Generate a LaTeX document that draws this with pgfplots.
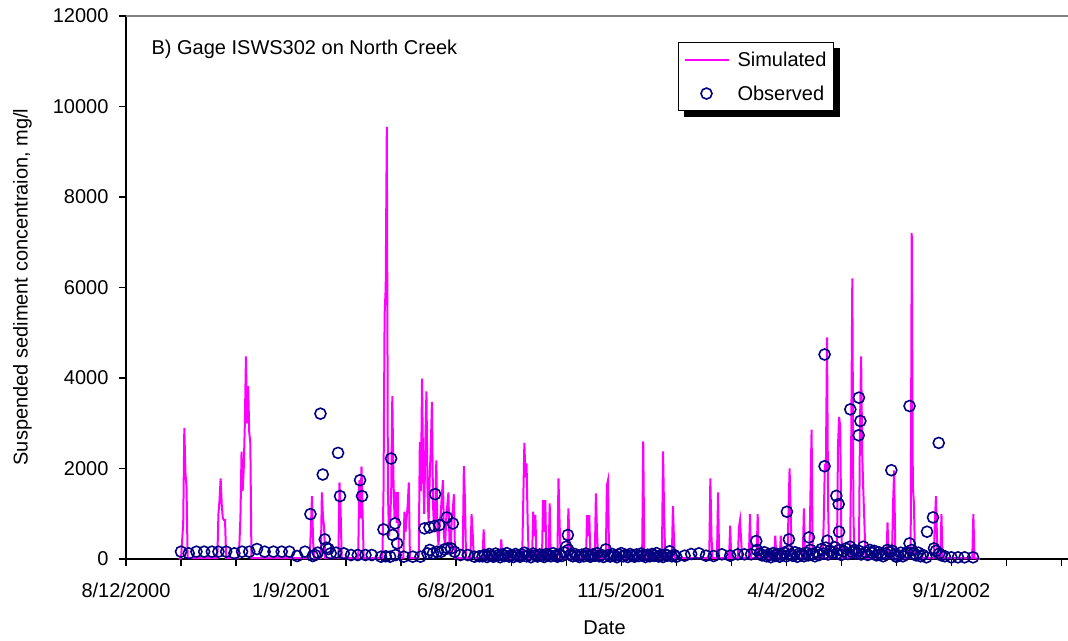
\documentclass[border=0pt]{standalone}
\usepackage{fontspec}
\setmainfont{Liberation Sans}
\usepackage{pgfplots}
\pgfplotsset{compat=1.18}
\usetikzlibrary{backgrounds}
\definecolor{simcol}{RGB}{255,0,255}
\definecolor{obscol}{RGB}{0,0,128}
\newcommand{\chartfont}{\fontsize{20}{24}\selectfont}
\begin{document}
\begin{tikzpicture}
\begin{axis}[
  scale only axis, width=942pt, height=543pt,
  xmin=0, xmax=856, ymin=0, ymax=12000,
  axis x line*=bottom, axis y line*=left,
  axis line style={black, line width=1.3pt},
  xtick={0,50,...,850},
  xticklabels={8/12/2000,,,1/9/2001,,,6/8/2001,,,11/5/2001,,,4/4/2002,,,9/1/2002,,},
  ytick={0,2000,...,12000},
  scaled y ticks=false,
  tick align=outside, major tick length=7pt,
  tick style={black, line width=1.3pt},
  /pgf/number format/1000 sep={},
  /pgf/number format/assume math mode=true,
  tick label style={font=\chartfont},
  xticklabel style={yshift=-13pt},
  yticklabel style={xshift=-7pt},
  xlabel={Date},
  ylabel={Suspended sediment concentraion, mg/l},
  every axis x label/.style={at={(axis description cs:0.508,-0.127)}, anchor=center, font=\chartfont},
  every axis y label/.style={at={(axis description cs:-0.110,0.501)}, rotate=90, anchor=center, font=\chartfont},
  legend image code/.code={\draw[mark repeat=2,mark phase=2,#1] plot coordinates {(0pt,0pt) (22pt,0pt) (44pt,0pt)};},
  legend style={name=leg, at={(0.586,0.952)}, anchor=north west, draw=black, line width=1pt,
    fill=white, font=\chartfont, inner xsep=5pt, inner ysep=7pt,
    nodes={inner sep=2pt},
    row sep=14pt,
    /tikz/every odd column/.append style={column sep=6pt}},
  legend cell align=left,
  clip=true,
]
\addplot[simcol, line width=2pt]
coordinates {
(48,0) (50,20) (51,400) (52,800) (53,2900) (54,1900) (55,1600) (56,20)
(83,20) (84,1000) (85,1300) (86,1780) (87,1200) (88,900) (89,860) (90,860) (91,20)
(102,20) (103,300) (104,930) (105,2370) (106,1500) (107,2000) (108,3000) (109,4480) (110,3000) (111,3820) (112,2800) (113,2550) (114,20)
(167,20) (168,700) (169,1390) (170,400) (171,20)
(177,20) (178,1470) (179,930) (180,710) (181,20)
(193,20) (194,1690) (195,1080) (196,20)
(211,20) (212,1740) (213,900) (214,2040) (215,1000) (216,20)
(233,20) (234,1500) (235,5400) (236,6000) (237,9550) (238,1500) (239,500) (240,800) (241,1500) (242,3600) (243,1800) (244,900) (245,1480) (246,800) (247,1485) (248,20)
(252,20) (253,1044) (254,600) (255,900) (256,1200) (257,1690) (258,20)
(266,20) (267,2590) (268,1500) (269,3985) (270,2000) (271,1000) (272,2500) (273,3705) (274,1500) (275,800) (276,1800) (277,2500) (278,3470) (279,1200) (280,600) (281,1000) (282,2180) (283,600) (284,300) (285,800) (286,1000) (287,1400) (288,1740) (289,500) (290,300) (291,900) (292,1200) (293,1470) (294,300) (295,200) (296,900) (297,1100) (298,1430) (299,20)
(306,20) (307,2050) (308,1300) (309,20)
(313,20) (314,990) (315,600) (316,20)
(324,20) (325,654) (326,20)
(340,20) (341,434) (342,20)
(360,20) (361,1300) (362,2565) (363,1800) (364,2110) (365,800) (366,20)
(369,20) (370,1044) (371,500) (372,970) (373,20)
(378,20) (379,1300) (380,600) (381,1300) (382,20)
(384,20) (385,1230) (386,20)
(392,20) (393,1780) (394,800) (395,20)
(401,20) (402,1117) (403,400) (404,20)
(418,20) (419,970) (420,500) (421,970) (422,20)
(426,20) (427,1450) (428,600) (429,20)
(436,20) (437,1630) (438,1742) (439,20)
(469,20) (470,2600) (471,20)
(487,20) (488,2380) (489,1000) (490,20)
(496,20) (497,1170) (498,400) (499,20)
(530,20) (531,1780) (532,500) (533,20)
(537,20) (538,1470) (539,20)
(548,20) (549,735) (550,20)
(556,20) (557,700) (558,860) (559,400) (560,20)
(566,20) (567,990) (568,20)
(573,20) (574,990) (575,20)
(589,20) (590,515) (591,20)
(594,20) (595,515) (596,20)
(601,20) (602,1000) (603,2000) (604,1000) (605,20)
(615,20) (616,1117) (617,20)
(621,20) (622,1500) (623,2860) (624,20)
(633,20) (634,800) (635,2040) (636,2000) (637,4900) (638,1200) (639,20)
(646,20) (647,2500) (648,3140) (649,2920) (650,600) (651,20)
(658,20) (659,2600) (660,6200) (661,1000) (662,20)
(666,20) (667,3000) (668,4480) (669,2330) (670,1500) (671,800) (672,20)
(691,20) (692,810) (693,20)
(696,20) (697,1200) (698,1960) (699,300) (700,20)
(713,20) (714,7200) (715,1600) (716,1230) (717,20)
(734,20) (735,800) (736,1390) (737,400) (738,20)
(740,20) (741,990) (742,20)
(769,20) (770,990) (771,20)
(776,0)
};
\addlegendentry{Simulated}
\addplot[only marks, mark=o, mark size=5.5pt, mark options={obscol, line width=1.6pt}]
coordinates {
(50,162) (57,125) (64,162) (71,162) (78,162) (84,162) (91,162) (98.5,125) (105.5,162) (112,162)
(119,220) (126,162) (134,162) (141.5,162) (148.5,162) (155.5,66) (162.7,162)
(167.6,992) (169.7,66) (171.8,88) (174.2,140) (176.7,3212) (178.8,1867) (180.6,434) (182,250)
(184,220) (186,125) (190.9,140) (192.7,2345) (194.5,1390) (197.9,125) (204.5,88) (210.6,88)
(212.7,1742) (214.5,1390) (217.6,88) (223.3,88) (231.8,51) (234,654) (236,60) (240,51)
(240.9,2220) (242.4,530) (244.5,786) (246.4,345) (245,88) (252.4,51) (260.6,51) (267.6,51)
(271.2,676) (275.8,698) (280.3,728) (280.9,1433) (284.8,750) (291.5,919) (297,786)
(274,125) (276,200) (279,125) (282.7,160) (286.4,160) (289.4,213) (292.4,235) (295.5,235)
(298.5,160) (304,88) (310.6,88) (316.7,51) (321,60)
(324,60) (326,90) (328,45) (330,110) (332,70) (334,50) (336,120) (338,80) (340,40) (342,100)
(344,65) (346,130) (348,55) (350,85) (352,45) (354,110) (356,75) (358,50) (360,95) (362,140)
(364,60) (366,90) (368,40) (370,120) (372,80) (374,55) (376,100) (378,70) (380,45) (382,110)
(384,85) (386,60) (388,130) (390,75) (392,50) (394,100) (396,65) (398,150) (400,272) (401.5,530)
(402,200) (404,90) (406,60) (408,110) (410,70) (412,45) (414,95) (416,60) (418,120) (420,80)
(422,50) (424,100) (426,70) (428,130) (430,60) (432,90) (434,45) (436,213) (438,85) (440,55)
(442,110) (444,70) (446,40) (448,95) (450,130) (452,60) (454,90) (456,45) (458,110) (460,75)
(462,50) (464,100) (466,65) (468,120) (470,80) (472,45) (474,95) (476,60) (478,110) (480,70)
(482,130) (484,55) (486,85) (488,45) (490,100) (492,75) (494,170) (496,60) (498,90) (500,50)
(507.6,73) (513.6,110) (520.6,125) (527,73) (534,66) (541.5,103) (549,73) (556,103) (562,103)
(568,103) (572.7,397) (573.3,198)
(576,120) (578,80) (580,150) (582,60) (584,100) (586,40) (588,130) (590,70) (592,110) (594,50)
(596,90) (598,140) (600,60) (600.6,1044) (602,180) (602.4,434) (604,100) (606,70) (608,150) (610,50)
(612,120) (614,90) (616,60) (618,140) (620,80) (620.6,478) (622,200) (624,110) (626,60) (628,150)
(630,90) (632,220) (634,120) (634.8,4520) (634.8,2050) (636,250) (637.3,404) (638,100) (640,180)
(642,140) (644,260) (645.5,1396) (646,120) (647.6,1213) (648,603) (648,200) (650,90) (652,170)
(654,230) (656,110) (658,272) (658.2,3307) (660,150) (662,200) (664,120) (665.8,2734) (666,3565)
(666,180) (667.3,3050) (668,100) (670,272) (672,150) (674,90) (676,200) (678,130) (680,180)
(682,80) (684,150) (686,100) (688,60) (690,120) (692,200) (694,150) (695.5,1962) (696,184)
(698,100) (700,50) (702,80) (704,140) (706,60) (708,100) (710,150) (712,3381) (712,345) (714,200)
(716,120) (718,80) (720,140) (722,60) (724,90)
(727.3,37) (727.9,603) (733.3,919) (734.2,235) (736,180) (738.5,2565) (739,120) (741,80) (744,60)
(750,37) (756,37) (762,37) (769.7,37)
};
\addlegendentry{Observed}
\draw[black!50, line width=1.3pt] (rel axis cs:0,1) -- (rel axis cs:1,1);
\node[anchor=west, font=\chartfont] at (rel axis cs:0.0234,0.939) {B) Gage ISWS302 on North Creek};
\end{axis}
\begin{pgfonlayer}{background}
\fill[black] ([shift={(6pt,-6pt)}]leg.south west) rectangle ([shift={(6pt,-6pt)}]leg.north east);
\end{pgfonlayer}
\pgfresetboundingbox
\useasboundingbox (-126pt,-81pt) rectangle (942pt,559pt);
\end{tikzpicture}
\end{document}
